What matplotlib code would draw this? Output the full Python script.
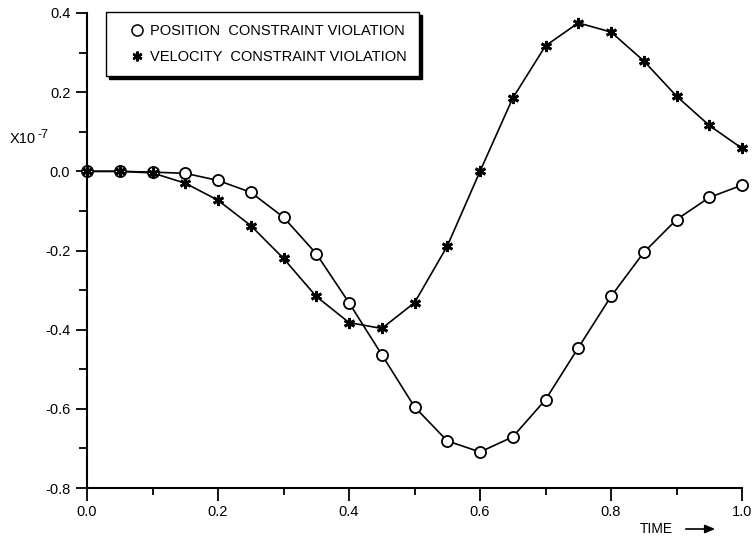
#!/usr/bin/env python3

import matplotlib
matplotlib.use("Agg")
import matplotlib.pyplot as plt
from matplotlib.lines import Line2D
from matplotlib.patches import FancyArrowPatch
from matplotlib.ticker import MultipleLocator, FormatStrFormatter

# values (units of 1e-7)
time = [0.00, 0.05, 0.10, 0.15, 0.20, 0.25, 0.30, 0.35, 0.40, 0.45, 0.50,
        0.55, 0.60, 0.65, 0.70, 0.75, 0.80, 0.85, 0.90, 0.95, 1.00]
position = [0.0, 0.0, -0.002, -0.005, -0.023, -0.053, -0.116, -0.208, -0.332, -0.463, -0.595,
            -0.681, -0.709, -0.671, -0.577, -0.446, -0.316, -0.205, -0.122, -0.066, -0.035]
velocity = [0.0, 0.0, -0.004, -0.030, -0.073, -0.137, -0.220, -0.316, -0.382, -0.397, -0.332,
            -0.189, 0.0, 0.185, 0.317, 0.375, 0.352, 0.279, 0.190, 0.116, 0.058]
legend_labels = ["POSITION  CONSTRAINT VIOLATION", "VELOCITY  CONSTRAINT VIOLATION"]


def init_figure_settings():
    plt.rcParams['font.family'] = ['Liberation Sans', 'DejaVu Sans']
    plt.rcParams['font.size'] = 10.5
    plt.rcParams['axes.unicode_minus'] = False
    plt.rcParams['axes.linewidth'] = 1.5


init_figure_settings()
fig = plt.figure(figsize=(7.53, 5.41), dpi=100)
ax = fig.add_axes([87 / 753, 1 - 488 / 541, (742 - 87) / 753, (488 - 13) / 541])

ax.plot(time, position, color='k', lw=1.2, zorder=2)
ax.plot(time, velocity, color='k', lw=1.2, zorder=2)
ax.plot(time, position, 'o', ms=8, mfc='white', mec='k', mew=1.3, zorder=3, clip_on=False)
ax.plot(time, velocity, ls='none', marker=(6, 2, 0), ms=8, mec='k', mew=2.0, zorder=4, clip_on=False)

ax.set_xlim(0, 1.0)
ax.set_ylim(-0.8, 0.4)
for s in ['top', 'right']:
    ax.spines[s].set_visible(False)
ax.xaxis.set_major_locator(MultipleLocator(0.2))
ax.xaxis.set_minor_locator(MultipleLocator(0.1))
ax.yaxis.set_major_locator(MultipleLocator(0.2))
ax.yaxis.set_minor_locator(MultipleLocator(0.1))
ax.xaxis.set_major_formatter(FormatStrFormatter('%.1f'))
ax.yaxis.set_major_formatter(FormatStrFormatter('%.1f'))
ax.tick_params(axis='x', which='major', direction='out', length=9, width=1.3, pad=3)
ax.tick_params(axis='x', which='minor', direction='out', length=5, width=1.3)
ax.tick_params(axis='y', which='major', direction='out', length=8, width=1.3, pad=4)
ax.tick_params(axis='y', which='minor', direction='out', length=6, width=1.3)

# scale factor label
fig.text(10 / 753, 1 - 143 / 541, "X10", fontsize=10.5, va='baseline')
fig.text(38 / 753, 1 - 138 / 541, "-7", fontsize=9, va='baseline')

# TIME label with arrow
fig.text(640 / 753, 1 - 533 / 541, "TIME", fontsize=10, va='baseline')
fig.patches.append(FancyArrowPatch(
    (683 / 753, 1 - 529 / 541), (718 / 753, 1 - 529 / 541), transform=fig.transFigure,
    arrowstyle='-|>,head_length=6,head_width=2.5', color='k', lw=1.2, mutation_scale=1))

handles = [
    Line2D([], [], ls='none', marker='o', ms=8, mfc='white', mec='k', mew=1.1),
    Line2D([], [], ls='none', marker=(6, 2, 0), ms=7, mec='k', mew=1.8),
]
leg = ax.legend(handles, legend_labels, loc='upper left', bbox_to_anchor=(106 / 753, 1 - 12 / 541),
                bbox_transform=fig.transFigure, frameon=True, fancybox=False,
                shadow={'color': 'k', 'alpha': 1}, handletextpad=-0.37, handlelength=2.55,
                borderpad=0.85, labelspacing=0.8, fontsize=10.5, borderaxespad=0)
leg.get_frame().set_edgecolor('k')
leg.get_frame().set_linewidth(1.0)

plt.savefig("out.png", dpi=100)
